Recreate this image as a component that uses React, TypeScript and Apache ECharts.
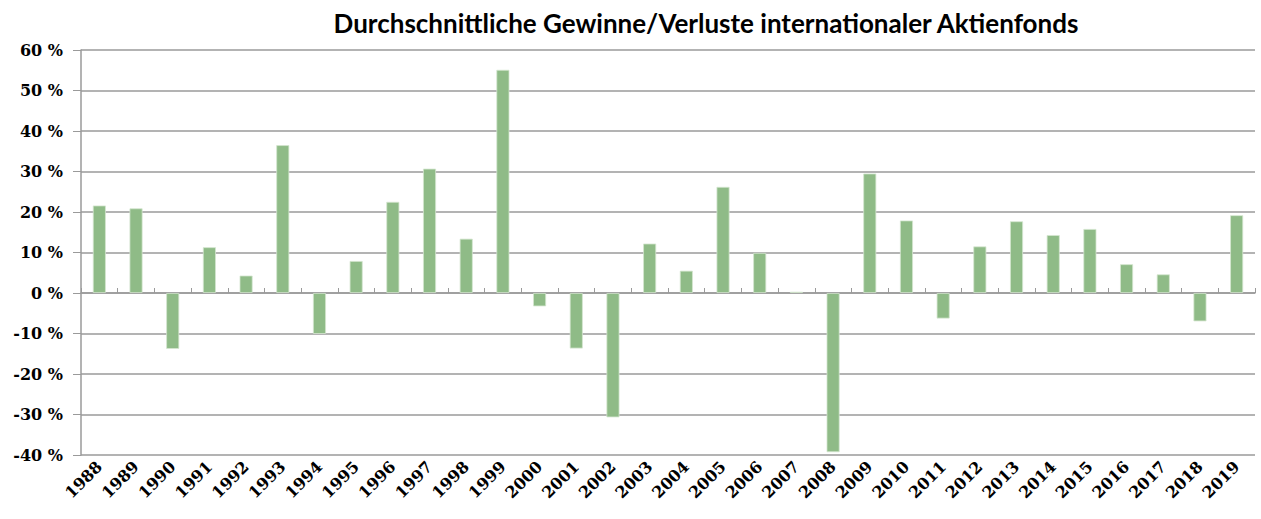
import React, { useEffect, useRef } from "react";
import * as echarts from "echarts";

const years = ["1988","1989","1990","1991","1992","1993","1994","1995","1996","1997","1998","1999","2000","2001","2002","2003","2004","2005","2006","2007","2008","2009","2010","2011","2012","2013","2014","2015","2016","2017","2018","2019"];
const returns = [21.6,20.9,-13.8,11.3,4.3,36.5,-10.1,7.9,22.5,30.7,13.4,55.1,-3.3,-13.7,-30.7,12.2,5.5,26.2,9.9,0.3,-39.3,29.5,17.9,-6.3,11.5,17.7,14.3,15.8,7.1,4.6,-7.0,19.2];
const titleText = "Durchschnittliche Gewinne/Verluste internationaler Aktienfonds";

export default function App() {
  const ref = useRef<HTMLDivElement>(null);
  useEffect(() => {
    const chart = echarts.init(ref.current!, null, { renderer: "svg" });
    chart.setOption({
      animation: false,
      title: {
        text: titleText,
        left: 701,
        textAlign: "center",
        top: 5,
        textStyle: { fontFamily: "Lato", fontWeight: "bold", fontSize: 26, color: "#000" },
      },
      grid: { left: 81, right: 6, top: 50, bottom: 64, containLabel: false },
      xAxis: [
        {
          type: "category",
          data: years,
          position: "bottom",
          axisLine: { show: false, onZero: false },
          axisTick: { show: false },
          axisLabel: {
            rotate: 45,
            interval: 0,
            margin: 9,
            fontFamily: "DejaVu Serif",
            fontWeight: "bold",
            fontSize: 16,
            color: "#000",
          },
        },
        {
          type: "category",
          data: years,
          position: "bottom",
          axisLine: { show: true, onZero: true, lineStyle: { color: "#9a9a9a", width: 1.5 } },
          axisTick: { show: true, inside: true, length: 5, lineStyle: { color: "#9a9a9a" } },
          axisLabel: { show: false },
        },
      ],
      yAxis: {
        type: "value",
        min: -40,
        max: 60,
        interval: 10,
        axisLine: { show: true, lineStyle: { color: "#9a9a9a", width: 1.5 } },
        axisTick: { show: true, length: 8, lineStyle: { color: "#9a9a9a" } },
        splitLine: { show: true, lineStyle: { color: "#9a9a9a", width: 1.5 } },
        axisLabel: {
          formatter: (v: number) => v + " %",
          margin: 18,
          fontFamily: "DejaVu Serif",
          fontWeight: "bold",
          fontSize: 16,
          color: "#000",
        },
      },
      series: [
        {
          type: "bar",
          data: returns,
          xAxisIndex: 0,
          barWidth: 13,
          itemStyle: { color: "#8fbb87", borderColor: "#d4e6cf", borderWidth: 0.8 },
        },
      ],
    });
    return () => chart.dispose();
  }, []);
  return <div ref={ref} style={{ position: "absolute", left: 0, top: 0, width: 1261, height: 519 }} />;
}
